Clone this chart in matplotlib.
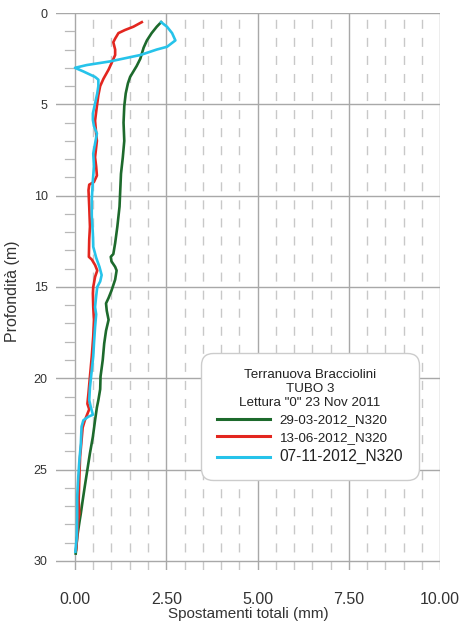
import matplotlib
matplotlib.use("Agg")
import matplotlib.pyplot as plt
from matplotlib.ticker import FixedLocator, MultipleLocator

plt.rcParams['font.family'] = ['Liberation Sans', 'DejaVu Sans']

# depth (m) and total displacement (mm) per reading
depth_mar = [0.5, 0.75, 1.1, 1.5, 1.9, 2.5, 2.9, 3.2, 3.5, 3.85, 4.4, 5.1, 6.0, 7.0, 7.9,
             8.8, 9.7, 10.6, 11.7, 12.6, 13.2, 13.35, 13.6, 13.9, 14.1, 14.6, 15.2, 15.6,
             15.9, 16.3, 16.8, 17.4, 18.1, 19.0, 19.9, 20.6, 21.2, 21.6, 22.3, 23.2, 24.1,
             25.0, 25.9, 26.7, 27.4, 27.9, 28.7, 29.4, 29.6]
disp_mar = [2.36, 2.24, 2.1, 1.97, 1.88, 1.79, 1.69, 1.6, 1.51, 1.45, 1.39, 1.35, 1.33, 1.35,
            1.31, 1.26, 1.24, 1.22, 1.16, 1.1, 1.05, 0.98, 1.0, 1.1, 1.14, 1.1, 1.0, 0.92,
            0.85, 0.87, 0.92, 0.85, 0.8, 0.76, 0.7, 0.69, 0.64, 0.6, 0.55, 0.49, 0.41, 0.34,
            0.27, 0.21, 0.16, 0.12, 0.06, 0.03, 0.02]

depth_jun = [0.5, 0.75, 0.93, 1.1, 1.4, 1.6, 2.0, 2.3, 2.75, 3.1, 3.6, 4.0, 4.5, 5.1, 5.9,
             6.6, 7.0, 7.9, 8.4, 8.9, 9.25, 9.4, 9.7, 10.6, 11.7, 12.4, 13.35, 13.5, 13.8,
             14.1, 14.45, 15.0, 15.35, 16.1, 16.8, 17.7, 18.8, 19.9, 20.8, 21.4, 21.7, 22.3,
             22.7, 23.4, 24.3, 25.4, 26.7, 27.4, 27.9, 28.7, 29.4]
disp_jun = [1.83, 1.6, 1.37, 1.19, 1.1, 1.05, 1.1, 1.1, 1.0, 0.92, 0.78, 0.69, 0.64, 0.6,
            0.55, 0.58, 0.6, 0.55, 0.58, 0.6, 0.52, 0.39, 0.37, 0.39, 0.41, 0.39, 0.38, 0.46,
            0.55, 0.61, 0.55, 0.5, 0.49, 0.5, 0.52, 0.5, 0.46, 0.41, 0.37, 0.34, 0.39, 0.27,
            0.21, 0.18, 0.14, 0.12, 0.1, 0.12, 0.08, 0.06, 0.03]

depth_nov = [0.5, 0.75, 1.1, 1.5, 1.85, 2.0, 2.3, 2.65, 2.85, 3.0, 3.2, 3.5, 3.65, 4.0, 4.4,
             4.95, 5.5, 5.85, 6.2, 6.6, 7.15, 7.7, 8.4, 9.15, 10.25, 11.1, 12.1, 12.8, 13.4,
             13.9, 14.35, 14.7, 15.0, 15.5, 16.1, 16.5, 17.2, 18.1, 18.8, 19.55, 20.5, 21.2,
             21.55, 22.0, 22.1, 22.3, 22.65, 23.6, 24.5, 25.4, 26.5, 27.6, 28.7, 29.5]
disp_nov = [2.36, 2.52, 2.66, 2.75, 2.52, 2.24, 1.79, 0.96, 0.32, 0.0, 0.23, 0.55, 0.64,
            0.64, 0.61, 0.55, 0.49, 0.49, 0.52, 0.6, 0.55, 0.5, 0.52, 0.49, 0.46, 0.46, 0.49,
            0.5, 0.58, 0.67, 0.73, 0.69, 0.61, 0.58, 0.55, 0.58, 0.55, 0.52, 0.5, 0.46, 0.41,
            0.39, 0.43, 0.49, 0.37, 0.23, 0.18, 0.16, 0.12, 0.09, 0.06, 0.06, 0.05, 0.01]

labels = ["29-03-2012_N320", "13-06-2012_N320", "07-11-2012_N320"]
colors = ["#1d6a2c", "#e3261f", "#26c3ea"]
x_ticks = [0, 2.5, 5, 7.5, 10]
x_tick_labels = ["0.00", "2.50", "5.00", "7.50", "10.00"]
legend_title = 'Terranuova Bracciolini\nTUBO 3\nLettura "0" 23 Nov 2011'

fig = plt.figure(figsize=(4.61, 6.32), dpi=100)
ax = fig.add_axes([0.1215, 0.0981, 0.833, 0.8813])

# grid
ax.set_xlim(-0.52, 10)
ax.set_ylim(30.5, 0)
ax.set_xticks(x_ticks)
ax.set_xticklabels(x_tick_labels)
ax.xaxis.set_minor_locator(FixedLocator([v / 2 for v in range(1, 20)]))
ax.yaxis.set_major_locator(MultipleLocator(5))
ax.grid(which='major', axis='both', color='#a8a8a8', lw=1.0)
ax.grid(which='minor', axis='x', color='#c8c8c8', lw=1.0, linestyle=(0, (6.5, 6.5)))
for d in range(1, 30):
    if d % 5:
        ax.plot([-0.27, -0.02], [d, d], color='#b8b8b8', lw=0.9)
ax.set_axisbelow(True)

for s in ['left', 'bottom', 'top', 'right']:
    ax.spines[s].set_visible(False)
ax.tick_params(axis='x', which='both', length=0, pad=16, labelsize=11.5, labelcolor='#333333')
ax.tick_params(axis='y', which='both', length=0, pad=6, labelsize=9, labelcolor='#333333')

ax.plot(disp_mar, depth_mar, color=colors[0], lw=1.9, label=labels[0])
ax.plot(disp_jun, depth_jun, color=colors[1], lw=1.9, label=labels[1])
ax.plot(disp_nov, depth_nov, color=colors[2], lw=1.9, label=labels[2])

ax.set_xlabel("Spostamenti totali (mm)", fontsize=11, color='#333333', labelpad=0)
ax.set_ylabel("Profondità (m)", fontsize=11.5, color='#333333', labelpad=10)

leg = ax.legend(title=legend_title, loc='upper left', borderaxespad=0,
                bbox_to_anchor=(201 / 461, 1 - 353 / 632), bbox_transform=fig.transFigure,
                fontsize=9.6, title_fontsize=9.6, handlelength=4, handletextpad=0.7,
                borderpad=1.2, labelspacing=0.4, frameon=True, fancybox=True,
                framealpha=1, edgecolor='#cccccc')
leg.get_frame().set_boxstyle('round', pad=0, rounding_size=0.9)
leg.get_title().set_multialignment('center')
leg.get_title().set_color('#222222')
for t in leg.get_texts():
    t.set_color('#222222')
leg.get_texts()[2].set_fontsize(11.2)
for h in leg.get_lines():
    h.set_linewidth(2.2)

fig.savefig("out.png", dpi=100, facecolor='white')
